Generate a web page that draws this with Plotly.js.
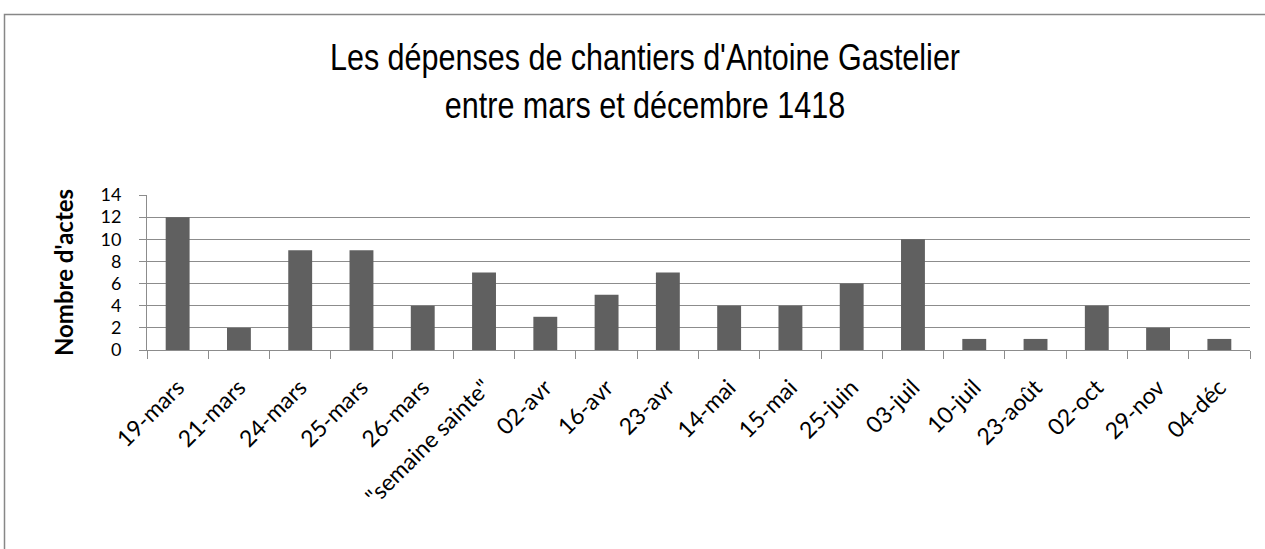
<!DOCTYPE html>
<html>
<head>
<meta charset="utf-8">
<script src="https://cdn.plot.ly/plotly-3.0.1.min.js"></script>
<style>html,body{margin:0;padding:0;background:#fff;}#chart{width:1265px;height:549px;}</style>
</head>
<body>
<div id="chart"></div>
<script>
const categories = ["19-mars","21-mars","24-mars","25-mars","26-mars","\"semaine sainte\"","02-avr","16-avr","23-avr","14-mai","15-mai","25-juin","03-juil","10-juil","23-août","02-oct","29-nov","04-déc"];
const actes = [12,2,9,9,4,7,3,5,7,4,4,6,10,1,1,4,2,1];
const yTicks = [0,2,4,6,8,10,12,14];

const W = 1265, H = 549;
const L = 147, R = 15, T = 195, B = 199;
const pw = W - L - R, ph = H - T - B;
const px = v => (v - L) / pw;
const py = v => (H - B - v) / ph;

const bodyFont = "Lato, Carlito, Calibri, 'Open Sans', sans-serif";
const titleFont = "'Liberation Sans', Arial, sans-serif";
const TITLE_CX = 645;

const trace = {
  type: 'bar',
  x: categories,
  y: actes,
  marker: {color: '#606060', line: {width: 0}},
  hoverinfo: 'x+y'
};

const layout = {
  width: W, height: H,
  margin: {l: L, r: R, t: T, b: B, pad: 0},
  paper_bgcolor: '#ffffff',
  plot_bgcolor: '#ffffff',
  showlegend: false,
  bargap: 0.61,
  title: {
    text: "Les dépenses de chantiers d'Antoine Gastelier<br>entre mars et décembre 1418",
    font: {family: titleFont, size: 37, color: '#000000'},
    x: TITLE_CX / W, xanchor: 'center', xref: 'container',
    y: 1 - 70 / H, yanchor: 'top', yref: 'container'
  },
  xaxis: {
    type: 'category',
    tickangle: -45,
    tickson: 'boundaries',
    ticks: 'outside', ticklen: 8, tickcolor: '#8c8c8c', tickwidth: 1,
    ticklabelstandoff: 14,
    showline: true, linecolor: '#8c8c8c', linewidth: 1,
    showgrid: false,
    tickfont: {family: bodyFont, size: 23, color: '#000000'},
    automargin: false
  },
  yaxis: {
    range: [0, 14],
    tickvals: yTicks,
    ticktext: yTicks.map(String),
    ticks: 'outside', ticklen: 7, tickcolor: '#8c8c8c', tickwidth: 1,
    ticklabelstandoff: 14,
    showline: true, linecolor: '#8c8c8c', linewidth: 1,
    showgrid: true, gridcolor: '#8c8c8c', gridwidth: 1,
    zeroline: false,
    tickfont: {family: bodyFont, size: 18, color: '#000000'},
    title: {text: "Nombre d'actes", font: {family: bodyFont, size: 24, color: '#000000', weight: 'bold'}, standoff: 20},
    automargin: false
  },
  shapes: [{
    type: 'rect', xref: 'paper', yref: 'paper',
    x0: px(4.5), x1: px(W + 30), y0: py(H + 30), y1: py(14.5),
    line: {color: '#878787', width: 1.5}, fillcolor: 'rgba(0,0,0,0)', layer: 'below'
  }]
};

function narrowTitle() {
  const g = document.querySelector('.g-gtitle');
  if (g) g.setAttribute('transform', 'translate(' + TITLE_CX + ',0) scale(0.825,1) translate(' + (-TITLE_CX) + ',0)');
}

Plotly.newPlot('chart', [trace], layout, {displayModeBar: false, staticPlot: true}).then(narrowTitle);
</script>
</body>
</html>
